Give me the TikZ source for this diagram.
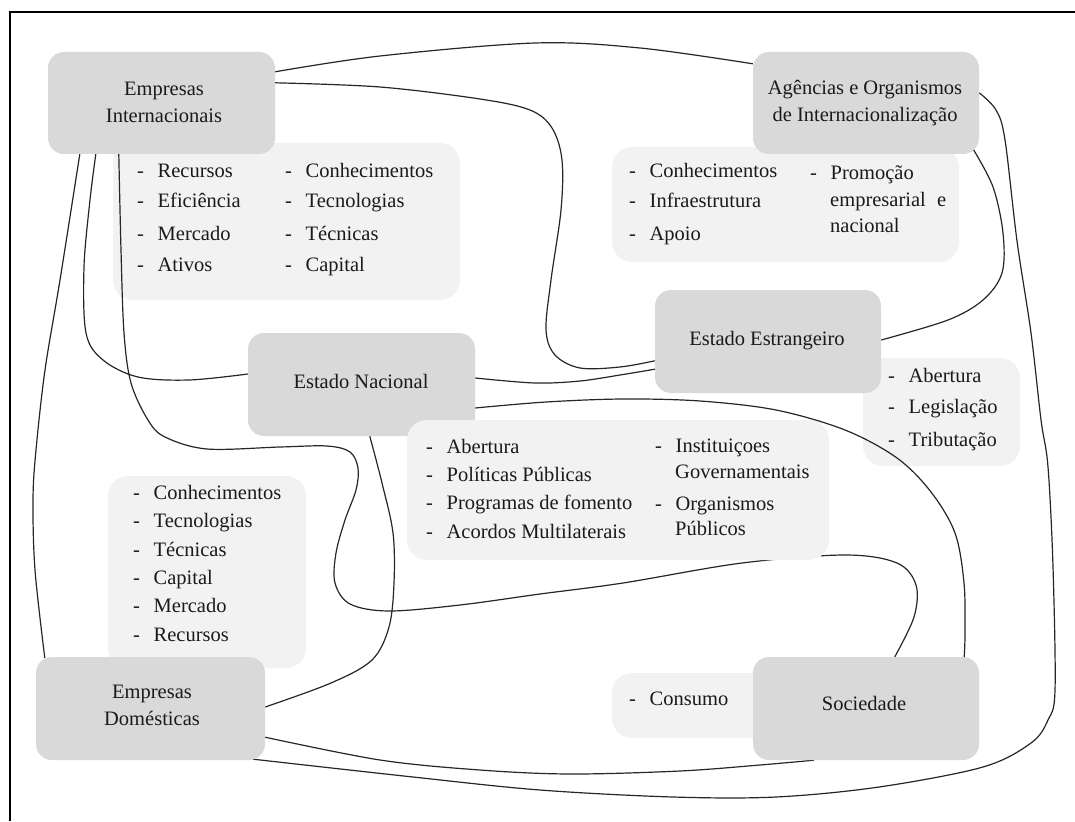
\documentclass[tikz,border=0pt]{standalone}
\usepackage{fontspec}
\setmainfont{Liberation Serif}
\usetikzlibrary{calc}
\definecolor{boxdark}{HTML}{D9D9D9}
\definecolor{boxlight}{HTML}{F2F2F2}
\definecolor{ink}{HTML}{1A1A1A}
\pgfdeclarelayer{panels}
\pgfdeclarelayer{links}
\pgfdeclarelayer{front}
\pgfsetlayers{panels,links,main,front}
\newcommand{\lstitem}[1]{\makebox[20.5pt][l]{-}#1}
\begin{document}
\begin{tikzpicture}[x=1pt,y=-1pt,
  actor/.style={fill=boxdark, draw=none, rounded corners=16pt, inner sep=0pt},
  panel/.style={fill=boxlight, draw=none, rounded corners=20pt, inner sep=0pt},
  title/.style={font=\fontsize{20.5}{27}\selectfont, text=ink, align=center, inner sep=0pt},
  item/.style={font=\fontsize{20.5}{25}\selectfont, text=ink, anchor=west, inner sep=0pt,
    text height=14pt, text depth=4.5pt},
  link/.style={draw=black!85, line width=1.2pt, smooth, tension=0.55},
  frame/.style={draw=black, line width=1.5pt},
]
\useasboundingbox (0,0) rectangle (1075,821);

% light panels holding the lists
\begin{pgfonlayer}{panels}
\node[panel, minimum width=347pt, minimum height=157pt] (pEI) at (286.5,221.5) {};
\node[panel, minimum width=347pt, minimum height=115pt] (pAG) at (785.5,204.5) {};
\node[panel, minimum width=157pt, minimum height=108pt] (pEE) at (941.5,412) {};
\node[panel, minimum width=198pt, minimum height=192pt] (pED) at (207,572) {};
\node[panel, minimum width=208pt, minimum height=65pt] (pSO) at (716,705.5) {};
\end{pgfonlayer}

% actors
\node[actor, minimum width=227pt, minimum height=102pt] (ei) at (161.5,103) {};
\node[actor, minimum width=226pt, minimum height=102pt] (ag) at (866,103) {};
\node[actor, minimum width=226pt, minimum height=103pt] (ee) at (768,341.5) {};
\node[actor, minimum width=227pt, minimum height=103pt] (en) at (361.5,384.5) {};
\node[actor, minimum width=229pt, minimum height=103pt] (ed) at (150.5,708.5) {};
\node[actor, minimum width=226pt, minimum height=103pt] (so) at (866,708.5) {};

% frame
\draw[frame] (1075,12) -- (10,12) -- (10,821);

% relations between the actors
\begin{pgfonlayer}{links}
% Empresas Internacionais -- Agencias
\draw[link] plot coordinates {($(ei.north east)+(0,20)$) (380,56) (535,43) (640,48) ($(ag.north west)+(0,12)$)};
% Empresas Internacionais -- Estado Estrangeiro
\draw[link] plot coordinates {($(ei.north east)+(0,31)$) (380,87) (480,99) (530,110) (552,128) (562,160)
  (561,210) (551,280) (546,330) (555,355) (580,368) (620,367) ($(ee.north west)+(0,71)$)};
% Agencias -- Empresas Domesticas
\draw[link] plot coordinates {($(ag.north east)+(0,41)$) (996,110) (1005,140) (1017,241) (1031,333)
  (1041,420) (1048,467) (1053,567) (1055,690) (1048,720) (1031,743) (983,767) (879,787) (776,797)
  (673,797) (540,790) (413,777) ($(ed.south east)+(-12,-1)$)};
% Empresas Domesticas -- Sociedade
\draw[link] plot coordinates {($(ed.south east)+(0,-23)$) (380,760) (480,770) (570,774) (680,771)
  (760,765) ($(so.south west)+(61,0)$)};
% Agencias -- Estado Estrangeiro
\draw[link] plot coordinates {($(ag.south east)+(-6,-5)$) (993,187) (1003,233) (1002,273) (983,300)
  (948,320) ($(ee.east)+(0,-1.5)$)};
% Estado Nacional -- Estado Estrangeiro
\draw[link] plot coordinates {($(en.east)+(0,-6.5)$) (535,383) (580,381) (620,375) ($(ee.south west)+(0,-24)$)};
% Estado Nacional -- Sociedade
\draw[link] plot coordinates {($(en.east)+(0,23.5)$) (546,402) (623,399) (700,401) (776,410) (845,430)
  (897,458) (931,492) (955,533) (964,583) (965,633) ($(so.north east)+(-15,0)$)};
% Empresas Internacionais -- Sociedade
\draw[link] plot coordinates {($(ei.south west)+(71,0)$) (121,250) (124,333) (131,383) (148,420)
  (165,437) (207,449) (280,447) (327,446) (350,452) (358,468) (356,490) (345,520) (336,553)
  (335,583) (350,604) (389,611) (460,605) (540,594) (623,583) (742,563) (845,555) (897,563)
  (916,585) (914,617) ($(so.north west)+(142,0)$)};
% Empresas Internacionais -- Estado Nacional
\draw[link] plot coordinates {($(ei.south west)+(48,0)$) (90,200) (84,267) (86,333) (103,360) (138,377)
  (189,380) ($(en.west)+(0,-10.5)$)};
% Empresas Internacionais -- Empresas Domesticas
\draw[link] plot coordinates {($(ei.south west)+(32,0)$) (60,280) (45,370) (36,450) (33,500) (35,570)
  ($(ed.north west)+(9,1)$)};
% Estado Nacional -- Empresas Domesticas
\draw[link] plot coordinates {($(en.south west)+(122,0)$) (382,483) (393,533) (394,583) (389,627)
  (372,660) (331,683) ($(ed.east)+(0,-1.5)$)};
\end{pgfonlayer}

\begin{pgfonlayer}{front}
\node[panel, minimum width=422pt, minimum height=140pt] (pEN) at (618,490) {};

% actor titles
\node[title] (eiT) at (164,102.5) {Empresas\\Internacionais};
\node[title] (agT) at (865,103.5) {Agências e Organismos\\de Internacionalização};
\node[title] (eeT) at (767,340.5) {Estado Estrangeiro};
\node[title] (enT) at (361,381) {Estado Nacional};
\node[title] (edT) at (152,705.5) {Empresas\\Domésticas};
\node[title] (soT) at (864,703) {Sociedade};

% lists
\foreach \yy/\myword [count=\k] in {173/Recursos,203/Eficiência,236/Mercado,267/Ativos}
  \node[item] (eiL\k) at (137,\yy) {\lstitem{\myword}};
\foreach \yy/\myword [count=\k] in {173/Conhecimentos,203/Tecnologias,236/Técnicas,267/Capital}
  \node[item] (eiR\k) at (285,\yy) {\lstitem{\myword}};
\foreach \yy/\myword [count=\k] in {173/Conhecimentos,203/Infraestrutura,236/Apoio}
  \node[item] (agL\k) at (629,\yy) {\lstitem{\myword}};
\node[item] (agR1) at (810,175) {\lstitem{Promoção}};
\node[item] (agR2) at (830,202) {empresarial\hspace{0.55em}e};
\node[item] (agR3) at (830,228) {nacional};
\foreach \yy/\myword [count=\k] in {378/Abertura,409/Legislação,442/Tributação}
  \node[item] (eeL\k) at (888,\yy) {\lstitem{\myword}};
\foreach \yy/\myword [count=\k] in {449/Abertura,477/Políticas Públicas,505/Programas de fomento,534/Acordos Multilaterais}
  \node[item] (enL\k) at (426,\yy) {\lstitem{\myword}};
\node[item] (enR1) at (655,448) {\lstitem{Instituiçoes}};
\node[item] (enR2) at (675,474) {Governamentais};
\node[item] (enR3) at (655,506) {\lstitem{Organismos}};
\node[item] (enR4) at (675,531) {Públicos};
\foreach \yy/\myword [count=\k] in {495/Conhecimentos,523/Tecnologias,552/Técnicas,580/Capital,608/Mercado,637/Recursos}
  \node[item] (edL\k) at (133,\yy) {\lstitem{\myword}};
\node[item] (soL1) at (629,701) {\lstitem{Consumo}};
\end{pgfonlayer}
\end{tikzpicture}
\end{document}
